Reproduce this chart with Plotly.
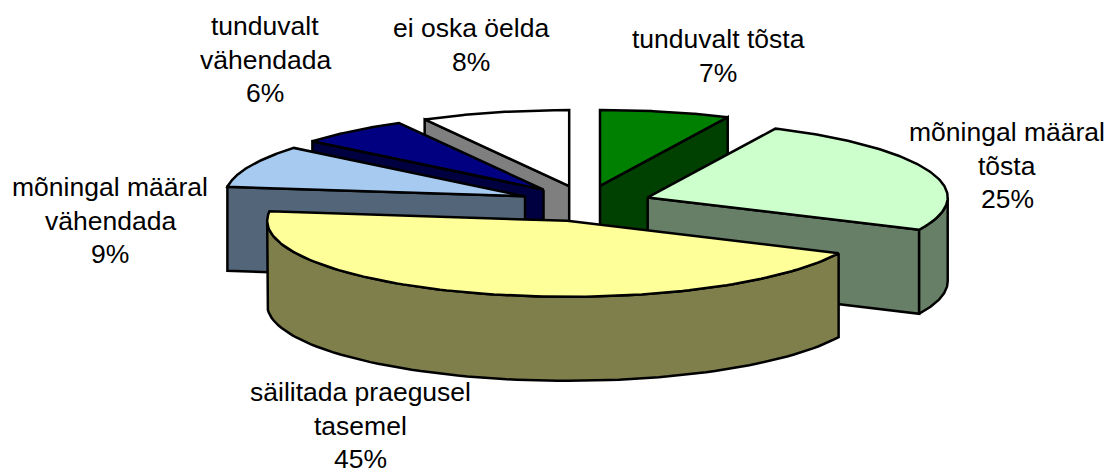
import numpy as np
import plotly.graph_objects as go

# Data
categories = ["tunduvalt tõsta", "mõningal määral tõsta", "säilitada praegusel tasemel",
              "mõningal määral vähendada", "tunduvalt vähendada", "ei oska öelda"]
shares = [7, 25, 45, 9, 6, 8]
top_colors = ["#008000", "#CCFFCC", "#FFFF99", "#A6CAF0", "#000080", "#FFFFFF"]
label_lines = [
    ["tunduvalt tõsta", "7%"],
    ["mõningal määral", "tõsta", "25%"],
    ["säilitada praegusel", "tasemel", "45%"],
    ["mõningal määral", "vähendada", "9%"],
    ["tunduvalt", "vähendada", "6%"],
    ["ei oska öelda", "8%"],
]
label_centers = [(718, 39), (1007, 132), (360, 392), (110, 187), (265, 26), (471, 28)]
paint_order = [5, 4, 0, 3, 1, 2]

# Pie geometry (pixel-scale axes)
CX, CY, RX, RY, DEPTH = 585.6, 203.5, 300, 76, 84
EX, EY = 66, 18
LINE_STEP = 33.5


def shade(c):
    r, g, b = (int(c[i:i + 2], 16) for i in (1, 3, 5))
    return f"rgb({r // 2},{g // 2},{b // 2})"


def rim(apex, a):
    a = np.radians(a)
    return apex[0] + RX * np.sin(a), apex[1] - RY * np.cos(a)


def poly(xs, ys, fill):
    return go.Scatter(x=list(xs) + [xs[0]], y=list(ys) + [ys[0]], mode="lines", fill="toself",
                      fillcolor=fill, line=dict(color="black", width=2.5),
                      hoverinfo="skip", showlegend=False)


edges = np.cumsum([0] + shares) * 3.6
fig = go.Figure()
for i in paint_order:
    a0, a1 = edges[i], edges[i + 1]
    mid = np.radians((a0 + a1) / 2)
    apex = (CX + EX * np.sin(mid), CY - EY * np.cos(mid))
    top, side = top_colors[i], shade(top_colors[i])

    # Visible cut face
    face = a1 if a1 < 180 else (a0 if a0 > 180 else None)
    if face is not None:
        fx, fy = rim(apex, face)
        fig.add_trace(poly([apex[0], fx, fx, apex[0]],
                           [apex[1], fy, fy + DEPTH, apex[1] + DEPTH], side))

    # Outer wall (front half of the rim only)
    w0, w1 = max(a0, 90), min(a1, 270)
    if w1 > w0:
        t = np.linspace(w0, w1, 80)
        wx, wy = rim(apex, t)
        fig.add_trace(poly(np.r_[wx, wx[::-1]], np.r_[wy, wy[::-1] + DEPTH], side))

    # Top surface
    t = np.linspace(a0, a1, 120)
    tx, ty = rim(apex, t)
    fig.add_trace(poly(np.r_[apex[0], tx], np.r_[apex[1], ty], top))

for lines, (x, y) in zip(label_lines, label_centers):
    for k, line in enumerate(lines):
        fig.add_annotation(x=x, y=y + k * LINE_STEP, text=line, showarrow=False,
                           xanchor="center", yanchor="middle",
                           font=dict(family="Liberation Sans", size=26.5, color="black"))

fig.update_layout(
    width=1109, height=471, margin=dict(l=0, r=0, t=0, b=0),
    paper_bgcolor="white", plot_bgcolor="white", showlegend=False,
    xaxis=dict(range=[0, 1109], visible=False, fixedrange=True),
    yaxis=dict(range=[471, 0], visible=False, fixedrange=True),
)
fig.write_html("out.html", config={"displayModeBar": False},
               post_script="document.body.style.margin='0';document.documentElement.style.overflow='hidden';")
